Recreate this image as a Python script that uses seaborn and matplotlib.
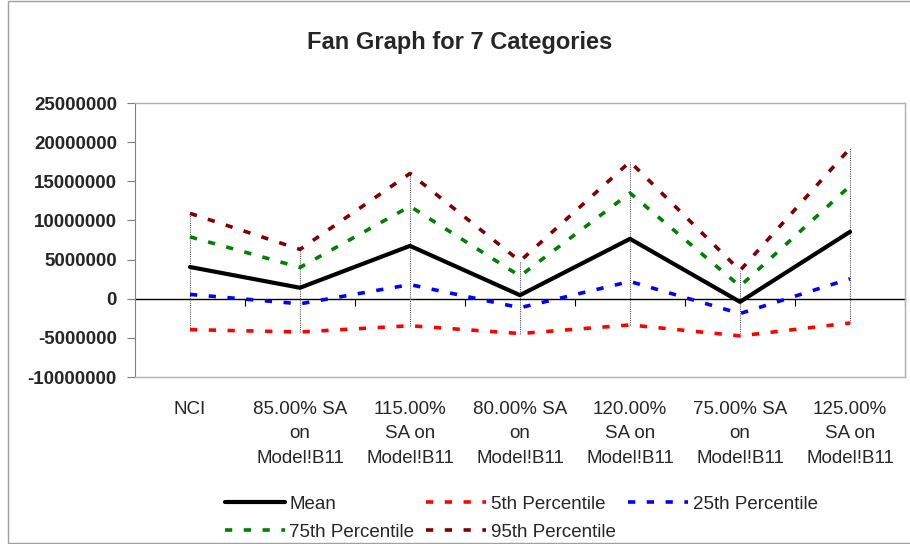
import numpy as np
import pandas as pd
import seaborn as sns
import matplotlib.pyplot as plt
from matplotlib.patches import Rectangle
from matplotlib.lines import Line2D

# %% data
categories = ['NCI', '85.00% SA\non\nModel!B11', '115.00%\nSA on\nModel!B11',
              '80.00% SA\non\nModel!B11', '120.00%\nSA on\nModel!B11',
              '75.00% SA\non\nModel!B11', '125.00%\nSA on\nModel!B11']
mean = [4.05e6, 1.4e6, 6.75e6, 0.45e6, 7.65e6, -0.4e6, 8.55e6]
p05 = [-3.95e6, -4.25e6, -3.45e6, -4.45e6, -3.35e6, -4.75e6, -3.1e6]
p25 = [0.55e6, -0.65e6, 1.8e6, -1.15e6, 2.2e6, -1.9e6, 2.55e6]
p75 = [7.9e6, 4.0e6, 11.8e6, 2.9e6, 13.5e6, 1.6e6, 14.4e6]
p95 = [10.9e6, 6.3e6, 16.0e6, 4.8e6, 17.5e6, 3.6e6, 19.2e6]

series_names = ['Mean', '5th Percentile', '25th Percentile',
                '75th Percentile', '95th Percentile']
series_colors = ['black', '#FF0000', '#0000FF', '#008000', '#800000']

# %% frame
pos = np.arange(len(categories))
df = pd.DataFrame({'pos': pos, 'Mean': mean, '5th Percentile': p05,
                   '25th Percentile': p25, '75th Percentile': p75,
                   '95th Percentile': p95})
long = df.melt(id_vars='pos', var_name='series', value_name='value')

# %% plot
sns.set_style('white')
plt.rcParams['font.family'] = ['Liberation Sans', 'DejaVu Sans']

fig = plt.figure(figsize=(9.1, 5.44), dpi=100)
ax = fig.add_axes([135 / 910, 1 - 377 / 544, 770 / 910, 274 / 544])

# high-low lines
lo = df[series_names].min(axis=1)
hi = df[series_names].max(axis=1)
ax.vlines(df['pos'], lo, hi, color='#555555', lw=0.8, ls=(0, (1, 1)), zorder=1)

palette = dict(zip(series_names, series_colors))
dashes = {n: (2, 3.2) for n in series_names}
dashes['Mean'] = ''
sns.lineplot(data=long, x='pos', y='value', hue='series', style='series',
             hue_order=series_names, style_order=series_names,
             palette=palette, dashes=dashes, lw=2.6, legend=False, ax=ax,
             zorder=3)
ax.lines[0].set_linewidth(3)

ax.set_xlim(-0.5, len(categories) - 0.5)
ax.set_ylim(-10e6, 25e6)
ax.set_yticks(np.arange(-10e6, 25e6 + 1, 5e6))
ax.yaxis.set_major_formatter(plt.FuncFormatter(lambda v, p: f'{v:.0f}'))
for lab in ax.get_yticklabels():
    lab.set_fontweight('bold')
ax.tick_params(axis='y', labelsize=13.5, length=6, width=0.8,
               color='#808080', direction='out', left=True, pad=7)
ax.set_xticks(pos)
ax.set_xticklabels(categories, fontsize=13.5, linespacing=1.6,
                   va='top')
ax.tick_params(axis='x', length=0, pad=17)
ax.set_xlabel('')
ax.set_ylabel('')

for s in ['top', 'right', 'bottom']:
    ax.spines[s].set_color('#b0b0b0')
    ax.spines[s].set_linewidth(1)
ax.spines['left'].set_color('#808080')

# zero axis with category boundary ticks
zero_loc = (0 - (-10e6)) / 35e6
sec = ax.secondary_xaxis(zero_loc)
sec.set_xticks(np.arange(0.5, len(categories) - 0.5 + 0.01, 1.0))
sec.set_xticklabels([])
sec.tick_params(axis='x', direction='out', length=5, width=0.8, color='black')
sec.spines['bottom'].set_color('black')
sec.spines['bottom'].set_linewidth(1)

fig.text(0.505, 0.922, 'Fan Graph for 7 Categories', ha='center',
         va='center', fontsize=17, fontweight='bold')

# legend (row-major order in 3 columns)
handles = {}
for name, col in zip(series_names, series_colors):
    if name == 'Mean':
        handles[name] = Line2D([], [], color=col, lw=3)
    else:
        handles[name] = Line2D([], [], color=col, lw=2.6, ls=(0, (2, 3.2)))
order = ['Mean', '75th Percentile', '5th Percentile', '95th Percentile',
         '25th Percentile']
fig.legend([handles[n] for n in order], order, ncol=3, frameon=False,
           loc='upper left', bbox_to_anchor=(217 / 910, 1 - 488 / 544),
           fontsize=13.5, handlelength=3.2, handletextpad=0.25,
           columnspacing=0.65, labelspacing=0.6, borderaxespad=0)

fig.patches.append(Rectangle((8 / 910, 0.002), 1.0, 0.996,
                             transform=fig.transFigure, fill=False,
                             edgecolor='#a0a0a0', lw=1))

fig.savefig('out.png', dpi=100)
